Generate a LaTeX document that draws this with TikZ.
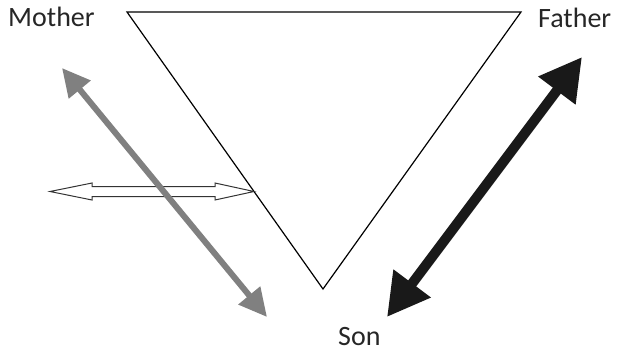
\documentclass[tikz,border=0pt]{standalone}
\usepackage{fontspec}
\setmainfont{Carlito}
\usetikzlibrary{arrows.meta}
\begin{document}
\begin{tikzpicture}[x=1pt,y=-1pt,
  lbl/.style={inner sep=0pt,anchor=base west,font=\fontsize{28}{32}\selectfont,text=black!85},
  tri/.style={draw=black,line width=1.2pt},
  grayarr/.style={draw=black!50,line width=6pt,{Triangle[length=28pt,width=27pt]}-{Triangle[length=28pt,width=27pt]}},
  blackarr/.style={draw=black!90,line width=10pt,{Triangle[length=42pt,width=44pt]}-{Triangle[length=42pt,width=44pt]}},
  openarr/.style={draw=black!80,fill=white,line width=1pt,line join=miter}
]
\useasboundingbox (0,0) rectangle (627,354);
% triangle
\coordinate (TL) at (127,12);
\coordinate (TR) at (521,12);
\coordinate (B) at (323,289);
\draw[tri] (TL) -- (TR) -- (B) -- cycle;
% labels
\node[lbl] (mother) at (8,26) {Mother};
\node[lbl] (father) at (538,27) {Father};
\node[lbl] (son) at (338,345) {Son};
% open double arrow
\coordinate (oa) at (50,191.5);
\coordinate (ob) at (254,191.5);
\draw[openarr] (oa) -- (92,183) -- (92,186.5) -- (215,186.5) -- (215,183) -- (ob)
  -- (215,200) -- (215,196.5) -- (92,196.5) -- (92,200) -- cycle;
% gray arrow
\coordinate (g1) at (62,68);
\coordinate (g2) at (267,317);
\draw[grayarr] (g1) -- (g2);
% black arrow
\coordinate (k1) at (387,317);
\coordinate (k2) at (582,57);
\draw[blackarr] (k1) -- (k2);
\end{tikzpicture}
\end{document}
